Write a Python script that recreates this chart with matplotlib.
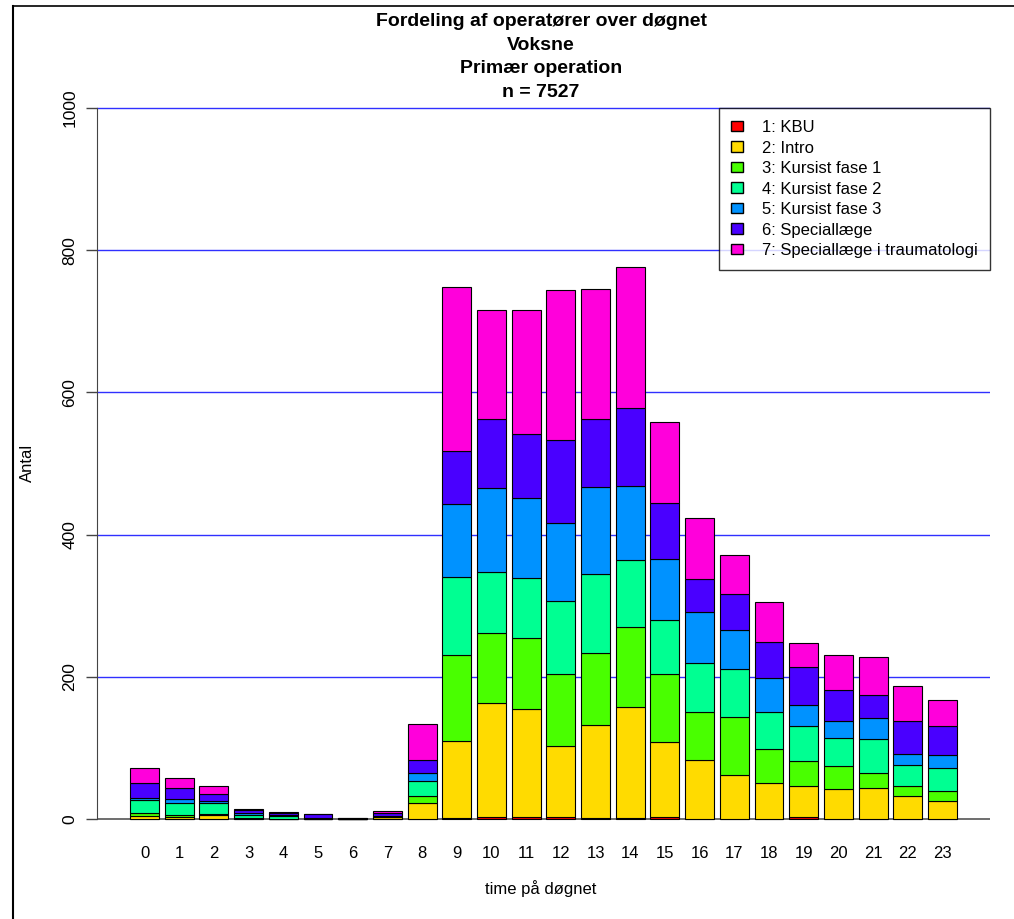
import numpy as np
import matplotlib
matplotlib.use("Agg")
import matplotlib.pyplot as plt
from matplotlib.lines import Line2D

plt.rcParams['font.family'] = ['Liberation Sans', 'DejaVu Sans']

# Data: counts per hour for each operator category
hours = list(range(24))
kbu     = [0, 0, 0, 0, 0, 0, 0, 0, 0, 1, 3, 3, 3, 1, 1, 3, 0, 0, 0, 3, 0, 0, 0, 0]
intro   = [4, 3, 5, 2, 0, 0, 0, 3, 22, 108, 160, 151, 99, 131, 156, 105, 83, 62, 50, 43, 42, 44, 33, 25]
fase1   = [5, 3, 2, 0, 0, 0, 0, 0, 11, 121, 99, 100, 102, 102, 113, 96, 68, 81, 49, 35, 33, 20, 13, 14]
fase2   = [17, 16, 15, 4, 4, 1, 0, 1, 21, 110, 85, 85, 102, 111, 94, 76, 68, 68, 51, 50, 39, 49, 30, 32]
fase3   = [4, 6, 3, 2, 1, 0, 0, 0, 11, 103, 118, 112, 110, 122, 104, 85, 72, 55, 48, 29, 24, 29, 16, 19]
special = [21, 16, 10, 4, 4, 6, 2, 4, 18, 75, 97, 91, 117, 95, 110, 79, 47, 50, 51, 54, 43, 33, 46, 41]
traum   = [21, 14, 12, 2, 1, 0, 0, 3, 51, 230, 154, 174, 211, 183, 198, 115, 86, 55, 56, 34, 49, 53, 49, 36]

labels = ["1: KBU", "2: Intro", "3: Kursist fase 1", "4: Kursist fase 2",
          "5: Kursist fase 3", "6: Speciallæge", "7: Speciallæge i traumatologi"]
colors = ["#FF0000", "#FFDB00", "#49FF00", "#00FF92", "#0092FF", "#4900FF", "#FF00DB"]
series = [kbu, intro, fase1, fase2, fase3, special, traum]
n_total = 7527

fig = plt.figure(figsize=(10.14, 9.19), dpi=100)
W, H = 1014, 919
ax = fig.add_axes([97 / W, (H - 847.4) / H, 893 / W, 767.8 / H])

# gridlines
for g in [200, 400, 600, 800, 1000]:
    ax.axhline(g, color="#3030FF", lw=1, zorder=0)
ax.axhline(0, color="#555555", lw=1.2, zorder=1)

x = np.arange(len(hours))
bottom = np.zeros(len(hours))
for vals, col, lab in zip(series, colors, labels):
    vals = np.array(vals)
    ax.bar(x, vals, width=0.833, bottom=bottom, color=col, edgecolor="black",
           linewidth=0.8, label=lab, zorder=2)
    bottom += vals

ax.set_xlim(-1.37, 24.37)
ax.set_ylim(-40, 1040)
ax.set_xticks(x)
ax.set_xticklabels([str(h) for h in hours], fontsize=12)
ax.tick_params(axis='x', length=0, pad=-1)
ax.set_yticks([0, 200, 400, 600, 800, 1000])
ax.set_yticklabels(["0", "200", "400", "600", "800", "1000"], fontsize=12.5,
                   rotation=90, va='center')
ax.tick_params(axis='y', length=8, width=1, color="#444444", pad=6)
for s in ["top", "right", "bottom"]:
    ax.spines[s].set_visible(False)
ax.spines["left"].set_bounds(0, 1000)
ax.spines["left"].set_color("#444444")
ax.patch.set_alpha(0)

leg = ax.legend(loc="upper right", bbox_to_anchor=(1, 1040 / 1080), borderaxespad=0,
                fontsize=12, frameon=True, fancybox=False, edgecolor="black",
                borderpad=0.72, labelspacing=0.33, handlelength=0.72, handleheight=0.6,
                handletextpad=1.15)
leg.get_frame().set_linewidth(1)
for h in leg.legend_handles:
    h.set_linewidth(1)

# titles and axis labels
title_lines = ["Fordeling af operatører over døgnet", "Voksne", "Primær operation",
               "n = %d" % n_total]
for i, t in enumerate(title_lines):
    fig.text(541 / W, 1 - (26 + 23.7 * i) / H, t, ha="center", va="baseline",
             fontsize=14, fontweight="bold")
fig.text(541 / W, 1 - 889 / H, "time på døgnet", ha="center", va="center", fontsize=12)
fig.text(27 / W, 1 - 463 / H, "Antal", ha="center", va="center", rotation=90, fontsize=12)

# frame of the original screenshot
fig.add_artist(Line2D([13 / W, 13 / W], [0, 1 - 6 / H], color="black", lw=1.5,
                      transform=fig.transFigure))
fig.add_artist(Line2D([13 / W, 1], [1 - 6 / H, 1 - 6 / H], color="black", lw=1.2,
                      transform=fig.transFigure))

fig.savefig("out.png", dpi=100)
